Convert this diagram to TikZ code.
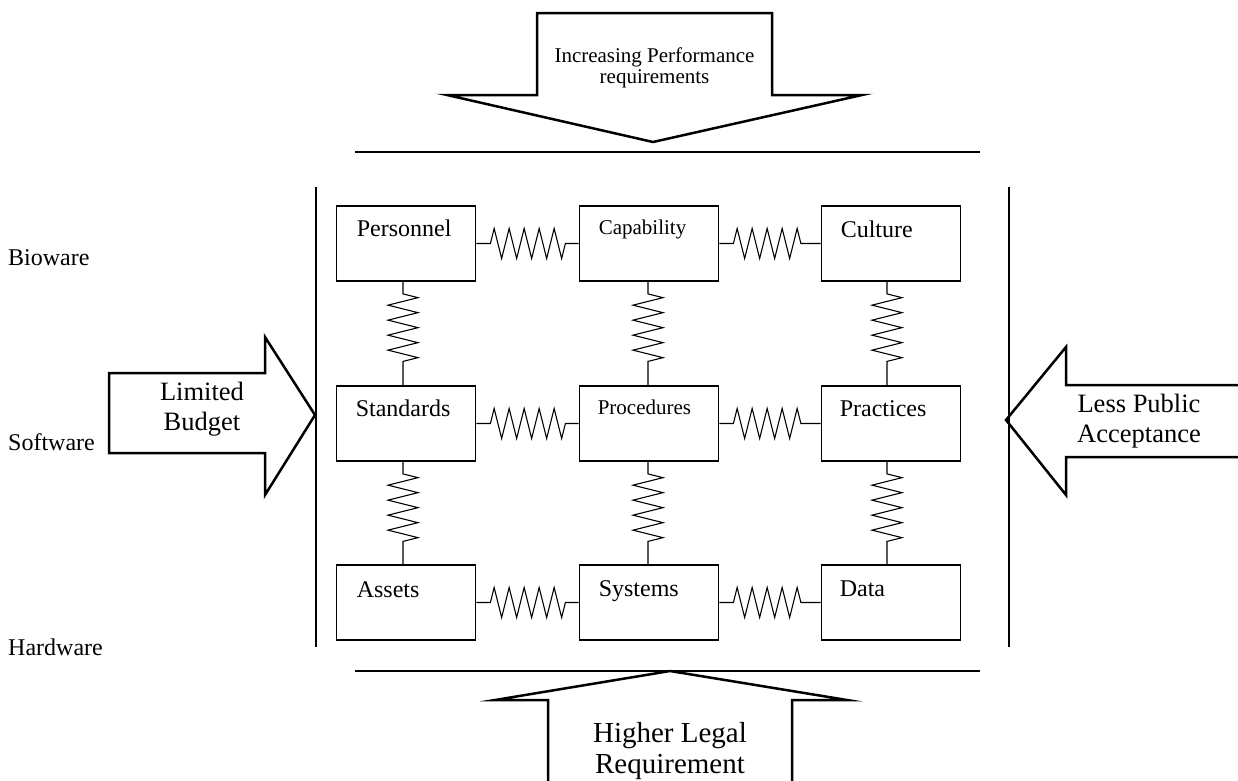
\documentclass[tikz,border=0pt]{standalone}
\usepackage{fontspec}
\setmainfont{Liberation Serif}
\usetikzlibrary{decorations.pathmorphing}
\begin{document}
\begin{tikzpicture}[x=1pt,y=-1pt,
  box/.style={draw,line width=1.8pt,minimum width=139pt,minimum height=75pt,inner sep=0pt},
  lbl/.style={anchor=base west,inner sep=0pt,font=\fontsize{24}{28}\selectfont},
  lbls/.style={anchor=base west,inner sep=0pt,font=\fontsize{21}{25}\selectfont},
  hspring/.style={line width=1.1pt,decorate,decoration={zigzag,segment length=15pt,amplitude=15pt,pre length=14pt,post length=13pt}},
  vspring/.style={line width=1.1pt,decorate,decoration={zigzag,segment length=15pt,amplitude=15pt,pre length=12pt,post length=17pt}},
  bigarrow/.style={line width=2.5pt,line join=miter,miter limit=20},
  rule/.style={line width=1.5pt},
  side/.style={anchor=base west,inner sep=0pt,font=\fontsize{24}{28}\selectfont},
  arrtext/.style={align=center,inner sep=0pt}]
\useasboundingbox (0,0) rectangle (1238,780);

% side labels
\node[side] (bio) at (8,265) {Bioware};
\node[side] (soft) at (8,450) {Software};
\node[side] (hard) at (8,655) {Hardware};

% frame lines
\coordinate (tl1) at (355,152); \coordinate (tl2) at (980,152);
\coordinate (bl1) at (355,671); \coordinate (bl2) at (980,671);
\coordinate (vl1) at (316,187); \coordinate (vl2) at (316,647);
\coordinate (vr1) at (1009,187); \coordinate (vr2) at (1009,647);
\draw[rule] (tl1) -- (tl2);
\draw[rule] (bl1) -- (bl2);
\draw[rule] (vl1) -- (vl2);
\draw[rule] (vr1) -- (vr2);

% boxes
\node[box] (personnel)  at (406,243.5) {};
\node[box] (capability) at (649,243.5) {};
\node[box] (culture)    at (891,243.5) {};
\node[box] (standards)  at (406,423.5) {};
\node[box] (procedures) at (649,423.5) {};
\node[box] (practices)  at (891,423.5) {};
\node[box] (assets)     at (406,602.5) {};
\node[box] (systems)    at (649,602.5) {};
\node[box] (data)       at (891,602.5) {};

\node[lbl]  (personnelT)  at ([xshift=21pt,yshift=-31pt]personnel.north west) {Personnel};
\node[lbls] (capabilityT) at ([xshift=20pt,yshift=-29pt]capability.north west) {Capability};
\node[lbl]  (cultureT)    at ([xshift=20pt,yshift=-32pt]culture.north west) {Culture};
\node[lbl]  (standardsT)  at ([xshift=20pt,yshift=-31pt]standards.north west) {Standards};
\node[lbls] (proceduresT) at ([xshift=19pt,yshift=-29pt]procedures.north west) {Procedures};
\node[lbl]  (practicesT)  at ([xshift=19pt,yshift=-31pt]practices.north west) {Practices};
\node[lbl]  (assetsT)     at ([xshift=21pt,yshift=-33pt]assets.north west) {Assets};
\node[lbl]  (systemsT)    at ([xshift=20pt,yshift=-32pt]systems.north west) {Systems};
\node[lbl]  (dataT)       at ([xshift=19pt,yshift=-32pt]data.north west) {Data};

% horizontal springs
\draw[hspring] (personnel.east) -- (capability.west);
\draw[hspring] (capability.east) -- (culture.west);
\draw[hspring] (standards.east) -- (procedures.west);
\draw[hspring] (procedures.east) -- (practices.west);
\draw[hspring] (assets.east) -- (systems.west);
\draw[hspring] (systems.east) -- (data.west);

% vertical springs
\draw[vspring] ([xshift=-3pt]personnel.south) -- ([xshift=-3pt]standards.north);
\draw[vspring] ([xshift=-1pt]capability.south) -- ([xshift=-1pt]procedures.north);
\draw[vspring] ([xshift=-4pt]culture.south) -- ([xshift=-4pt]practices.north);
\draw[vspring] ([xshift=-3pt]standards.south) -- ([xshift=-3pt]assets.north);
\draw[vspring] ([xshift=-1pt]procedures.south) -- ([xshift=-1pt]systems.north);
\draw[vspring] ([xshift=-4pt]practices.south) -- ([xshift=-4pt]data.north);

% top arrow
\draw[bigarrow] (537,13) -- (772,13) -- (772,95) -- (862,95) -- (653,142) -- (447,95) -- (537,95) -- cycle;
\node[arrtext,font=\fontsize{21}{21}\selectfont] (perfT) at (654.5,67.5) {Increasing Performance\\requirements};

% left arrow
\draw[bigarrow] (109,373) -- (265,373) -- (265,337) -- (315,415) -- (265,495) -- (265,453) -- (109,453) -- cycle;
\node[arrtext,font=\fontsize{26.5}{30}\selectfont] (budgetT) at (202,409) {Limited\\Budget};

% right arrow
\draw[bigarrow] (1245,385) -- (1066,385) -- (1066,347) -- (1006,420) -- (1066,495) -- (1066,457) -- (1245,457);
\node[arrtext,font=\fontsize{26.5}{30}\selectfont] (publicT) at (1139,421) {Less Public\\Acceptance};

% bottom arrow
\draw[bigarrow] (548,790) -- (548,700) -- (495,700) -- (670,671) -- (847,700) -- (792,700) -- (792,790);
\node[arrtext,font=\fontsize{29}{31}\selectfont] (legalT) at (670,751) {Higher Legal\\Requirement};
\end{tikzpicture}
\end{document}
